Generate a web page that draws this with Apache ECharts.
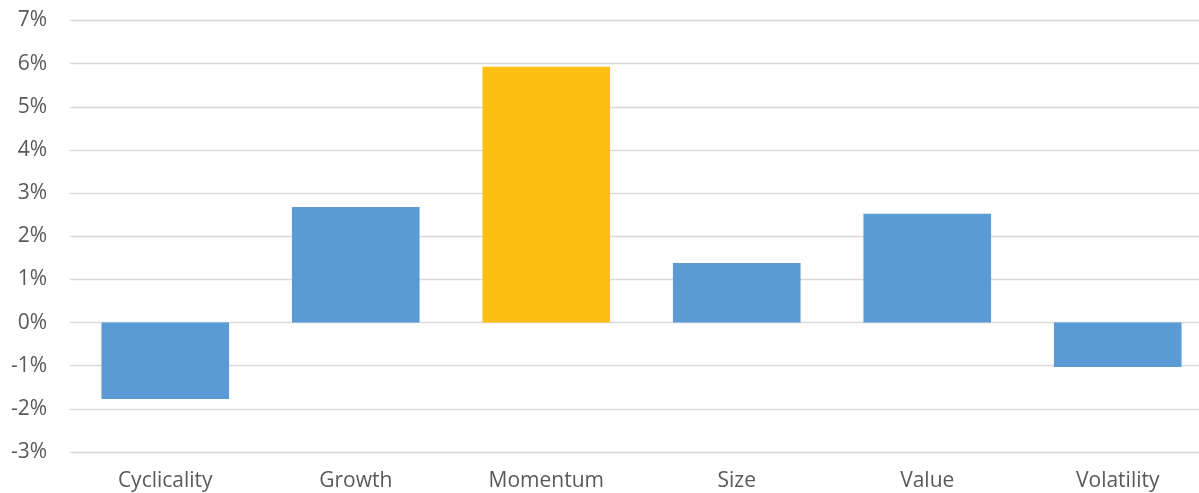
<!DOCTYPE html>
<html>
<head>
<meta charset="utf-8">
<script src="https://cdn.jsdelivr.net/npm/echarts@6/dist/echarts.min.js"></script>
<style>html,body{margin:0;padding:0;background:#fff;overflow:hidden;width:1199px;height:493px;}#c{width:1213px;height:493px;}</style>
</head>
<body>
<div id="c"></div>
<script>
const categories = ['Cyclicality', 'Growth', 'Momentum', 'Size', 'Value', 'Volatility'];
const values = [-1.77, 2.68, 5.93, 1.38, 2.52, -1.03];
const highlight = 'Momentum';
const yTicks = { min: -3, max: 7, interval: 1 };

const chart = echarts.init(document.getElementById('c'));
chart.setOption({
  animation: false,
  grid: { left: 70, right: 0, top: 20.5, bottom: 41, containLabel: false },
  xAxis: {
    type: 'category',
    data: categories,
    axisLine: { show: false, onZero: false },
    axisTick: { show: false },
    axisLabel: { color: '#595959', fontFamily: 'Open Sans', fontSize: 21, margin: 19 }
  },
  yAxis: {
    type: 'value',
    min: yTicks.min, max: yTicks.max, interval: yTicks.interval,
    axisLine: { show: false },
    axisTick: { show: false },
    splitLine: { lineStyle: { color: '#D9D9D9', width: 1.3 } },
    axisLabel: { color: '#595959', fontFamily: 'Open Sans', fontSize: 21, margin: 23, formatter: v => v + '%' }
  },
  series: [{
    type: 'bar',
    data: values.map((v, i) => ({
      value: v,
      itemStyle: { color: categories[i] === highlight ? '#FDC012' : '#5B9BD5' }
    })),
    barCategoryGap: '33%'
  }]
});
</script>
</body>
</html>
